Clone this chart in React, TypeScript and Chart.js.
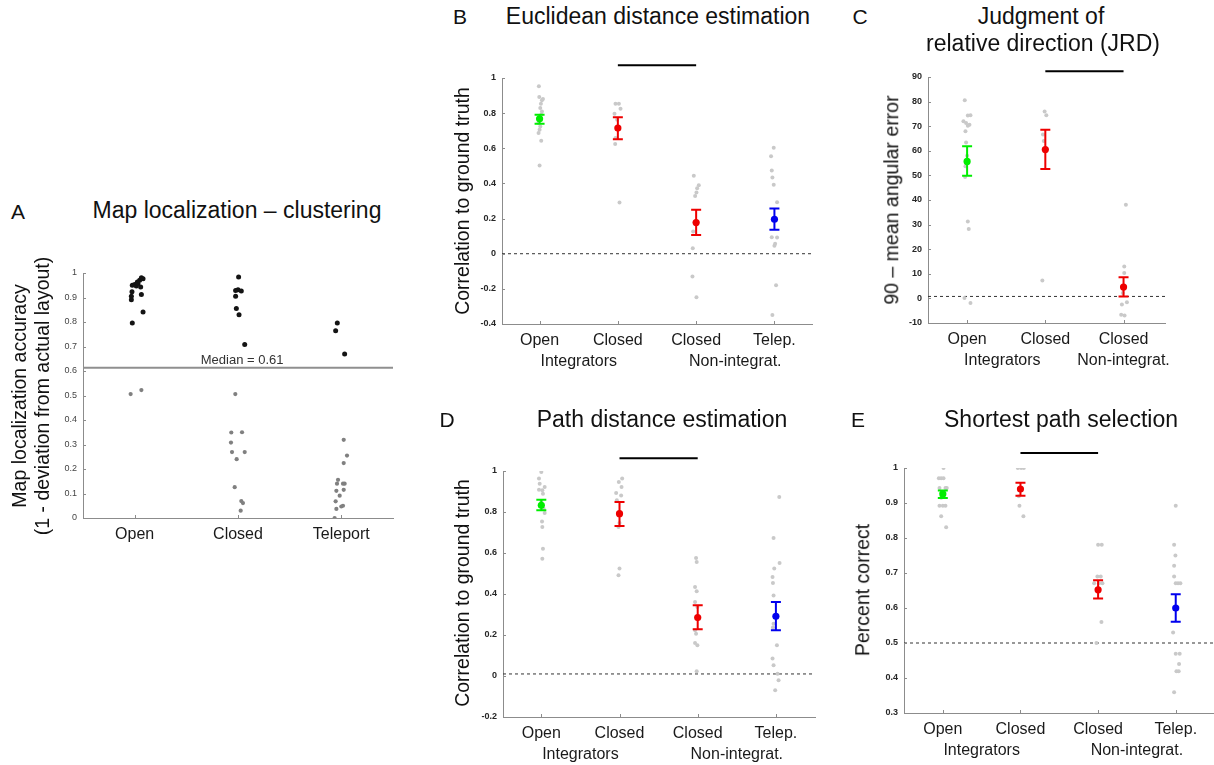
import React, { useEffect, useRef } from "react";
import { Chart, registerables } from "chart.js";
Chart.register(...registerables);

const FONT = '"Liberation Sans", Arial, Helvetica, sans-serif';
const AXIS = "#8c8c8c";
const GREEN = "#00ee00";
const RED = "#ee0000";
const BLUE = "#0000ee";
const LIGHT = "#c9c9c9";

// ---------- Panel A: Map localization – clustering ----------
const A_categories = ["Open", "Closed", "Teleport"];
const A_yTicks = [0, 0.1, 0.2, 0.3, 0.4, 0.5, 0.6, 0.7, 0.8, 0.9, 1];
const A_median = 0.613;
const A_openVals = [0.891, 0.905, 0.923, 0.95, 0.953, 0.947, 0.957, 0.97, 0.981, 0.977, 0.943, 0.912, 0.841, 0.796, 0.963, 0.506, 0.522];
const A_openJit = [-0.032, -0.032, -0.026, -0.023, 0, 0.016, 0.032, 0.048, 0.065, 0.081, 0.058, 0.065, 0.081, -0.023, 0.026, -0.039, 0.065];
const A_closedVals = [0.984, 0.929, 0.932, 0.927, 0.905, 0.855, 0.83, 0.708, 0.506, 0.349, 0.35, 0.308, 0.269, 0.269, 0.24, 0.126, 0.069, 0.061, 0.03];
const A_closedJit = [0.006, -0.023, 0, 0.032, -0.023, -0.016, 0.01, 0.065, -0.026, -0.065, 0.039, -0.068, -0.058, 0.065, -0.013, -0.032, 0.032, 0.048, 0.026];
const A_teleVals = [0.796, 0.764, 0.669, 0.319, 0.255, 0.224, 0.156, 0.14, 0.14, 0.14, 0.111, 0.115, 0.091, 0.068, 0.05, 0.047, 0.037, 0.0];
const A_teleJit = [-0.039, -0.055, 0.032, 0.023, 0.055, 0.023, -0.032, -0.042, 0.016, 0.032, -0.048, 0.023, -0.016, -0.055, 0.016, 0, -0.048, -0.065];

// ---------- Shared categories for B, D, E ----------
const BDE_categories = ["Open", "Closed", "Closed", "Telep."];
const BDE_groups = [
  { text: "Integrators", at: 1.5 },
  { text: "Non-integrat.", at: 3.5 },
];
const BDE_meanColors = [GREEN, RED, RED, BLUE];

// ---------- Panel B: Euclidean distance estimation ----------
const B_yTicks = [-0.4, -0.2, 0, 0.2, 0.4, 0.6, 0.8, 1];
const B_openVals = [0.953, 0.892, 0.873, 0.88, 0.854, 0.829, 0.81, 0.791, 0.744, 0.724, 0.706, 0.687, 0.643, 0.502];
const B_openJit = [-0.009, -0.004, 0.03, 0.043, 0.017, 0.009, 0.03, 0.021, -0.013, 0.009, 0, -0.013, 0.021, 0];
const B_closedVals = [0.854, 0.854, 0.825, 0.797, 0.763, 0.658, 0.624, 0.291];
const B_closedJit = [-0.03, 0.013, 0.034, -0.043, -0.009, -0.03, -0.034, 0.021];
const B_closedNIVals = [0.443, 0.39, 0.373, 0.348, 0.329, 0.177, 0.126, 0.031, -0.13, -0.248];
const B_closedNIJit = [-0.03, 0.034, 0.013, 0.004, -0.013, -0.02, -0.038, -0.043, -0.047, 0.004];
const B_telepVals = [0.603, 0.554, 0.474, 0.434, 0.392, 0.293, 0.094, 0.092, 0.056, 0.046, -0.18, -0.349];
const B_telepJit = [-0.009, -0.043, -0.034, -0.026, -0.009, 0.034, -0.034, 0.034, 0.009, 0, 0.021, -0.026];
const B_means = [0.768, 0.715, 0.177, 0.196];
const B_lo = [0.74, 0.652, 0.107, 0.136];
const B_hi = [0.791, 0.776, 0.25, 0.257];
const B_chance = 0;
const B_sigY = 1.072;

// ---------- Panel C: JRD ----------
const C_categories = ["Open", "Closed", "Closed"];
const C_groups = [
  { text: "Integrators", at: 1.45 },
  { text: "Non-integrat.", at: 3 },
];
const C_meanColors = [GREEN, RED, RED];
const C_yTicks = [-10, 0, 10, 20, 30, 40, 50, 60, 70, 80, 90];
const C_openVals = [80.5, 74.5, 74.3, 72, 71.3, 70.6, 70.2, 67.9, 63.4, 58, 53.7, 49.3, 31.3, 28.2, 0.2, -1.9];
const C_openJit = [-0.03, 0.043, 0.009, -0.047, -0.013, 0.03, 0.009, -0.021, -0.013, 0, -0.021, -0.026, 0.009, 0.021, -0.034, 0.043];
const C_closedVals = [76, 74.5, 66.6, 64, 7.3];
const C_closedJit = [-0.009, 0.013, -0.03, -0.02, -0.038];
const C_closedNIVals = [38.1, 13, 10.3, 2.2, -1.6, -2.5, -6.6, -7];
const C_closedNIJit = [0.03, 0.009, 0.009, -0.009, 0.043, -0.021, -0.03, 0.013];
const C_means = [55.7, 60.5, 4.6];
const C_lo = [49.9, 52.6, 0.8];
const C_hi = [61.8, 68.6, 8.6];
const C_chance = 0.8;
const C_sigY = 92.3;

// ---------- Panel D: Path distance estimation ----------
const D_yTicks = [-0.2, 0, 0.2, 0.4, 0.6, 0.8, 1];
const D_openVals = [0.995, 0.963, 0.938, 0.922, 0.909, 0.906, 0.889, 0.849, 0.816, 0.795, 0.754, 0.727, 0.621, 0.572];
const D_openJit = [0, -0.03, -0.021, 0.043, -0.03, 0.013, 0.021, 0, 0.03, 0.043, 0.009, 0.013, 0.021, 0.013];
const D_closedVals = [0.963, 0.946, 0.922, 0.893, 0.881, 0.857, 0.746, 0.727, 0.524, 0.491];
const D_closedJit = [0.034, -0.009, 0.026, -0.043, 0.021, -0.034, 0, -0.013, 0, -0.013];
const D_closedNIVals = [0.576, 0.556, 0.434, 0.413, 0.361, 0.337, 0.223, 0.206, 0.161, 0.15, 0.023];
const D_closedNIJit = [-0.021, -0.013, -0.034, -0.013, -0.034, -0.004, -0.034, -0.021, -0.034, -0.004, -0.013];
const D_telepVals = [0.873, 0.673, 0.551, 0.524, 0.483, 0.454, 0.393, 0.255, 0.236, 0.15, 0.085, 0.052, 0.011, -0.021, -0.07];
const D_telepJit = [0.043, -0.03, 0.047, -0.021, -0.043, -0.038, -0.03, -0.03, -0.038, 0.013, -0.043, -0.03, 0.021, 0.034, -0.009];
const D_means = [0.833, 0.792, 0.285, 0.291];
const D_lo = [0.808, 0.732, 0.228, 0.223];
const D_hi = [0.86, 0.849, 0.345, 0.361];
const D_chance = 0.01;
const D_sigY = 1.062;

// ---------- Panel E: Shortest path selection ----------
const E_yTicks = [0.3, 0.4, 0.5, 0.6, 0.7, 0.8, 0.9, 1];
const E_openVals = [1.0, 0.971, 0.971, 0.971, 0.943, 0.943, 0.943, 0.93, 0.915, 0.892, 0.892, 0.892, 0.862, 0.831];
const E_openJit = [0.009, -0.051, -0.021, 0.009, -0.043, 0.034, 0.051, 0, -0.021, -0.043, 0, 0.034, -0.021, 0.043];
const E_closedVals = [1.0, 1.0, 1.0, 0.94, 0.919, 0.892, 0.862];
const E_closedJit = [-0.034, 0.009, 0.043, 0, -0.021, -0.013, 0.038];
const E_closedNIVals = [0.781, 0.781, 0.69, 0.69, 0.671, 0.671, 0.671, 0.56, 0.5];
const E_closedNIJit = [0, 0.047, -0.009, 0.034, -0.051, 0.013, 0.056, 0.043, -0.021];
const E_telepVals = [0.892, 0.781, 0.75, 0.721, 0.69, 0.671, 0.671, 0.671, 0.53, 0.469, 0.469, 0.44, 0.419, 0.419, 0.359];
const E_telepJit = [0, -0.021, -0.004, -0.021, -0.021, 0, 0.03, 0.06, -0.034, 0, 0.051, 0.043, 0.009, 0.038, -0.021];
const E_means = [0.926, 0.94, 0.652, 0.6];
const E_lo = [0.914, 0.921, 0.627, 0.561];
const E_hi = [0.936, 0.958, 0.679, 0.639];
const E_chance = 0.5;
const E_sigY = 1.043;

// ---------- layout ----------
const PAD_L = 60;
const PAD_T = 40;
const PAD_R = 20;
const PAD_B = 60;

type PointSet = { vals: number[]; jit: number[]; cat: number };
type PanelCfg = {
  rect: { L: number; T: number; R: number; B: number };
  xMin: number;
  xMax: number;
  yMin: number;
  yMax: number;
  yTicks: number[];
  categories: string[];
  groups?: { text: string; at: number }[];
  sets: PointSet[];
  colorFor: (v: number) => string;
  radiusFor: (v: number) => number;
  means?: number[];
  lo?: number[];
  hi?: number[];
  meanColors?: string[];
  refLine?: { y: number; color: string; width: number; dash: number[] };
  sigBar?: { x1: number; x2: number; y: number };
  boldTicks: boolean;
  tickColor: string;
  tickSize: number;
  medianLabel?: { text: string; x: number; y: number };
};

function makeDecor(cfg: PanelCfg) {
  return {
    id: "decor",
    beforeDatasetsDraw(chart: any) {
      const { ctx, chartArea, scales } = chart;
      const r = cfg.refLine;
      if (!r) return;
      const py = scales.y.getPixelForValue(r.y);
      ctx.save();
      ctx.strokeStyle = r.color;
      ctx.lineWidth = r.width;
      ctx.setLineDash(r.dash);
      ctx.beginPath();
      ctx.moveTo(chartArea.left, py);
      ctx.lineTo(chartArea.right, py);
      ctx.stroke();
      ctx.restore();
    },
    afterDatasetsDraw(chart: any) {
      const { ctx, scales } = chart;
      if (!cfg.means) return;
      ctx.save();
      cfg.means.forEach((_m, i) => {
        const px = scales.x.getPixelForValue(i + 1);
        const yl = scales.y.getPixelForValue(cfg.lo![i]);
        const yh = scales.y.getPixelForValue(cfg.hi![i]);
        ctx.strokeStyle = cfg.meanColors![i];
        ctx.lineWidth = 2;
        ctx.beginPath();
        ctx.moveTo(px, yl);
        ctx.lineTo(px, yh);
        ctx.moveTo(px - 5, yl);
        ctx.lineTo(px + 5, yl);
        ctx.moveTo(px - 5, yh);
        ctx.lineTo(px + 5, yh);
        ctx.stroke();
      });
      ctx.restore();
    },
    afterDraw(chart: any) {
      const { ctx, chartArea, scales } = chart;
      const xs = scales.x;
      const ys = scales.y;
      ctx.save();
      // inward ticks
      ctx.strokeStyle = AXIS;
      ctx.lineWidth = 1;
      ctx.beginPath();
      ys.ticks.forEach((t: any) => {
        const py = Math.round(ys.getPixelForValue(t.value)) + 0.5;
        ctx.moveTo(chartArea.left, py);
        ctx.lineTo(chartArea.left + 3, py);
      });
      xs.ticks.forEach((t: any) => {
        const px = Math.round(xs.getPixelForValue(t.value)) + 0.5;
        ctx.moveTo(px, chartArea.bottom);
        ctx.lineTo(px, chartArea.bottom - 3);
      });
      ctx.stroke();
      // significance bar
      if (cfg.sigBar) {
        const py = ys.getPixelForValue(cfg.sigBar.y);
        ctx.strokeStyle = "#000";
        ctx.lineWidth = 2;
        ctx.beginPath();
        ctx.moveTo(xs.getPixelForValue(cfg.sigBar.x1), py);
        ctx.lineTo(xs.getPixelForValue(cfg.sigBar.x2), py);
        ctx.stroke();
      }
      // group labels
      if (cfg.groups) {
        ctx.fillStyle = "#1a1a1a";
        ctx.font = `16px ${FONT}`;
        ctx.textAlign = "center";
        ctx.textBaseline = "middle";
        cfg.groups.forEach((g) => {
          ctx.fillText(g.text, xs.getPixelForValue(g.at), chartArea.bottom + 38);
        });
      }
      // median label
      if (cfg.medianLabel) {
        ctx.fillStyle = "#333";
        ctx.font = `13px ${FONT}`;
        ctx.textAlign = "center";
        ctx.textBaseline = "middle";
        ctx.fillText(
          cfg.medianLabel.text,
          xs.getPixelForValue(cfg.medianLabel.x),
          ys.getPixelForValue(cfg.medianLabel.y) - 7
        );
      }
      ctx.restore();
    },
  };
}

function fmt(v: number) {
  return String(+(+v).toFixed(2));
}

function Panel({ cfg }: { cfg: PanelCfg }) {
  const ref = useRef<HTMLCanvasElement>(null);
  const { L, T, R, B } = cfg.rect;
  const w = R - L + PAD_L + PAD_R;
  const h = B - T + PAD_T + PAD_B;
  useEffect(() => {
    const pts: { x: number; y: number }[] = [];
    const colors: string[] = [];
    const radii: number[] = [];
    cfg.sets.forEach((s) =>
      s.vals.forEach((v, i) => {
        pts.push({ x: s.cat + s.jit[i], y: v });
        colors.push(cfg.colorFor(v));
        radii.push(cfg.radiusFor(v));
      })
    );
    const datasets: any[] = [];
    if (cfg.means) {
      datasets.push({
        data: cfg.means.map((m, i) => ({ x: i + 1, y: m })),
        pointBackgroundColor: cfg.meanColors,
        pointRadius: 3.6,
        pointBorderWidth: 0,
        order: 0,
      });
    }
    datasets.push({
      data: pts,
      pointBackgroundColor: colors,
      pointRadius: radii,
      pointBorderWidth: 0,
      order: 1,
    });
    const chart = new Chart(ref.current!, {
      type: "scatter",
      data: { datasets },
      options: {
        responsive: false,
        animation: false,
        events: [],
        layout: { padding: { left: 0, top: PAD_T, right: PAD_R, bottom: 0 } },
        plugins: {
          legend: { display: false },
          tooltip: { enabled: false },
          title: { display: false },
        },
        scales: {
          x: {
            type: "linear",
            min: cfg.xMin,
            max: cfg.xMax,
            afterBuildTicks: (s: any) => {
              s.ticks = cfg.categories.map((_c, i) => ({ value: i + 1 }));
            },
            afterFit: (s: any) => {
              s.height = PAD_B;
            },
            grid: { drawOnChartArea: false, drawTicks: false },
            border: { display: true, color: AXIS, width: 1 },
            ticks: {
              autoSkip: false,
              maxRotation: 0,
              padding: 7,
              color: "#1a1a1a",
              font: { family: FONT, size: 16 },
              callback: (v: any) => cfg.categories[Math.round(v) - 1] ?? "",
            },
          },
          y: {
            type: "linear",
            min: cfg.yMin,
            max: cfg.yMax,
            afterBuildTicks: (s: any) => {
              s.ticks = cfg.yTicks.map((v) => ({ value: v }));
            },
            afterFit: (s: any) => {
              s.width = PAD_L;
            },
            grid: { drawOnChartArea: false, drawTicks: false },
            border: { display: true, color: AXIS, width: 1 },
            ticks: {
              autoSkip: false,
              padding: 6,
              color: cfg.tickColor,
              font: { family: FONT, size: cfg.tickSize, weight: cfg.boldTicks ? "bold" : "normal" },
              callback: (v: any) => fmt(v),
            },
          },
        },
      } as any,
      plugins: [makeDecor(cfg) as any],
    });
    return () => chart.destroy();
  }, []);
  return (
    <canvas
      ref={ref}
      width={w}
      height={h}
      style={{ position: "absolute", left: L - PAD_L, top: T - PAD_T, width: w, height: h }}
    />
  );
}

const lightColor = () => LIGHT;
const lightRadius = () => 2;

const panelA: PanelCfg = {
  rect: { L: 83, T: 273, R: 393, B: 518 },
  xMin: 0.5,
  xMax: 3.5,
  yMin: 0,
  yMax: 1,
  yTicks: A_yTicks,
  categories: A_categories,
  sets: [
    { vals: A_openVals, jit: A_openJit, cat: 1 },
    { vals: A_closedVals, jit: A_closedJit, cat: 2 },
    { vals: A_teleVals, jit: A_teleJit, cat: 3 },
  ],
  colorFor: (v) => (v > A_median ? "#141414" : "#808080"),
  radiusFor: (v) => (v > A_median ? 2.5 : 2.1),
  refLine: { y: A_median, color: "#8f8f8f", width: 2, dash: [] },
  boldTicks: false,
  tickColor: "#444",
  tickSize: 9,
  medianLabel: { text: `Median = ${A_median.toFixed(2)}`, x: 2.04, y: A_median },
};

const panelB: PanelCfg = {
  rect: { L: 502, T: 78, R: 812, B: 324 },
  xMin: 0.52,
  xMax: 4.48,
  yMin: -0.4,
  yMax: 1,
  yTicks: B_yTicks,
  categories: BDE_categories,
  groups: BDE_groups,
  sets: [
    { vals: B_openVals, jit: B_openJit, cat: 1 },
    { vals: B_closedVals, jit: B_closedJit, cat: 2 },
    { vals: B_closedNIVals, jit: B_closedNIJit, cat: 3 },
    { vals: B_telepVals, jit: B_telepJit, cat: 4 },
  ],
  colorFor: lightColor,
  radiusFor: lightRadius,
  means: B_means,
  lo: B_lo,
  hi: B_hi,
  meanColors: BDE_meanColors,
  refLine: { y: B_chance, color: "#333", width: 1, dash: [3, 3] },
  sigBar: { x1: 2, x2: 3, y: B_sigY },
  boldTicks: true,
  tickColor: "#262626",
  tickSize: 9,
};

const panelC: PanelCfg = {
  rect: { L: 928, T: 77, R: 1165, B: 323 },
  xMin: 0.5,
  xMax: 3.53,
  yMin: -10,
  yMax: 90,
  yTicks: C_yTicks,
  categories: C_categories,
  groups: C_groups,
  sets: [
    { vals: C_openVals, jit: C_openJit, cat: 1 },
    { vals: C_closedVals, jit: C_closedJit, cat: 2 },
    { vals: C_closedNIVals, jit: C_closedNIJit, cat: 3 },
  ],
  colorFor: lightColor,
  radiusFor: lightRadius,
  means: C_means,
  lo: C_lo,
  hi: C_hi,
  meanColors: C_meanColors,
  refLine: { y: C_chance, color: "#333", width: 1, dash: [3, 3] },
  sigBar: { x1: 2, x2: 3, y: C_sigY },
  boldTicks: true,
  tickColor: "#262626",
  tickSize: 9,
};

const panelD: PanelCfg = {
  rect: { L: 503, T: 471, R: 815, B: 717 },
  xMin: 0.51,
  xMax: 4.5,
  yMin: -0.2,
  yMax: 1,
  yTicks: D_yTicks,
  categories: BDE_categories,
  groups: BDE_groups,
  sets: [
    { vals: D_openVals, jit: D_openJit, cat: 1 },
    { vals: D_closedVals, jit: D_closedJit, cat: 2 },
    { vals: D_closedNIVals, jit: D_closedNIJit, cat: 3 },
    { vals: D_telepVals, jit: D_telepJit, cat: 4 },
  ],
  colorFor: lightColor,
  radiusFor: lightRadius,
  means: D_means,
  lo: D_lo,
  hi: D_hi,
  meanColors: BDE_meanColors,
  refLine: { y: D_chance, color: "#333", width: 1, dash: [3, 3] },
  sigBar: { x1: 2, x2: 3, y: D_sigY },
  boldTicks: true,
  tickColor: "#262626",
  tickSize: 9,
};

const panelE: PanelCfg = {
  rect: { L: 904, T: 468, R: 1213, B: 713 },
  xMin: 0.5,
  xMax: 4.48,
  yMin: 0.3,
  yMax: 1,
  yTicks: E_yTicks,
  categories: BDE_categories,
  groups: BDE_groups,
  sets: [
    { vals: E_openVals, jit: E_openJit, cat: 1 },
    { vals: E_closedVals, jit: E_closedJit, cat: 2 },
    { vals: E_closedNIVals, jit: E_closedNIJit, cat: 3 },
    { vals: E_telepVals, jit: E_telepJit, cat: 4 },
  ],
  colorFor: lightColor,
  radiusFor: lightRadius,
  means: E_means,
  lo: E_lo,
  hi: E_hi,
  meanColors: BDE_meanColors,
  refLine: { y: E_chance, color: "#333", width: 1, dash: [3, 3] },
  sigBar: { x1: 2, x2: 3, y: E_sigY },
  boldTicks: true,
  tickColor: "#262626",
  tickSize: 9,
};

function Text({ x, y, size, children, rotate }: { x: number; y: number; size: number; children: React.ReactNode; rotate?: boolean }) {
  return (
    <div
      style={{
        position: "absolute",
        left: x,
        top: y,
        transform: `translate(-50%, -50%)${rotate ? " rotate(-90deg)" : ""}`,
        fontFamily: FONT,
        fontSize: size,
        lineHeight: 1,
        whiteSpace: "nowrap",
        color: "#111",
      }}
    >
      {children}
    </div>
  );
}

export default function App() {
  return (
    <div
      style={{
        position: "absolute",
        left: 0,
        top: 0,
        width: 1214,
        height: 765,
        overflow: "hidden",
        background: "#fff",
      }}
    >
      <Panel cfg={panelA} />
      <Panel cfg={panelB} />
      <Panel cfg={panelC} />
      <Panel cfg={panelD} />
      <Panel cfg={panelE} />

      <Text x={18} y={211} size={21}>A</Text>
      <Text x={237} y={210} size={23}>Map localization – clustering</Text>
      <Text x={20} y={396} size={19.5} rotate>Map localization accuracy</Text>
      <Text x={43} y={396} size={19.5} rotate>(1 - deviation from actual layout)</Text>

      <Text x={460} y={16} size={21}>B</Text>
      <Text x={658} y={16} size={23}>Euclidean distance estimation</Text>
      <Text x={463} y={201} size={19.5} rotate>Correlation to ground truth</Text>

      <Text x={860} y={16} size={21}>C</Text>
      <Text x={1041} y={16} size={23}>Judgment of</Text>
      <Text x={1043} y={43} size={23}>relative direction (JRD)</Text>
      <Text x={892} y={200} size={19.5} rotate>90 – mean angular error</Text>

      <Text x={447} y={419} size={21}>D</Text>
      <Text x={662} y={419} size={23}>Path distance estimation</Text>
      <Text x={463} y={593} size={19.5} rotate>Correlation to ground truth</Text>

      <Text x={858} y={419} size={21}>E</Text>
      <Text x={1061} y={419} size={23}>Shortest path selection</Text>
      <Text x={863} y={590} size={19.5} rotate>Percent correct</Text>
    </div>
  );
}
